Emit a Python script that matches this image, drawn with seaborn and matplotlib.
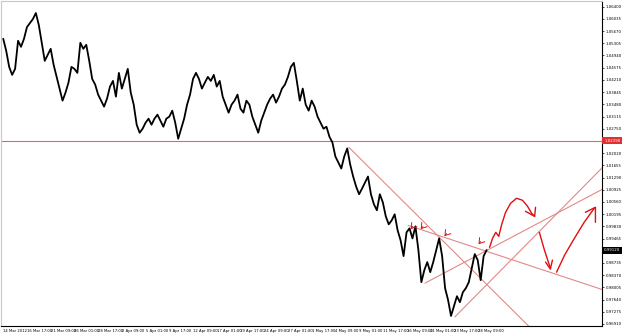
import numpy as np
import pandas as pd
import matplotlib
matplotlib.use("Agg")
import matplotlib.pyplot as plt
import seaborn as sns

# ---------------- data ----------------
close = [
    1.0544, 1.0508, 1.0460, 1.0436, 1.0454, 1.0538, 1.0520, 1.0544, 1.0579, 1.0591,
    1.0603, 1.0621, 1.0585, 1.0532, 1.0478, 1.0496, 1.0514, 1.0466, 1.0430, 1.0395,
    1.0359, 1.0383, 1.0413, 1.0460, 1.0454, 1.0442, 1.0532, 1.0514, 1.0526, 1.0478,
    1.0424, 1.0407, 1.0377, 1.0359, 1.0341, 1.0365, 1.0401, 1.0418, 1.0371, 1.0442,
    1.0395, 1.0424, 1.0454, 1.0383, 1.0347, 1.0287, 1.0263, 1.0275, 1.0293, 1.0305,
    1.0287, 1.0305, 1.0317, 1.0299, 1.0281, 1.0305, 1.0311, 1.0329, 1.0293, 1.0245,
    1.0275, 1.0305, 1.0347, 1.0377, 1.0424, 1.0442, 1.0424, 1.0395, 1.0413, 1.0430,
    1.0418, 1.0436, 1.0401, 1.0418, 1.0371, 1.0347, 1.0323, 1.0347, 1.0359, 1.0377,
    1.0335, 1.0323, 1.0359, 1.0347, 1.0311, 1.0287, 1.0263, 1.0299, 1.0323, 1.0347,
    1.0365, 1.0377, 1.0353, 1.0371, 1.0395, 1.0407, 1.0430, 1.0460, 1.0472, 1.0418,
    1.0359, 1.0395, 1.0347, 1.0329, 1.0359, 1.0341, 1.0311, 1.0293, 1.0275, 1.0281,
    1.0251, 1.0234, 1.0192, 1.0174, 1.0156, 1.0192, 1.0216, 1.0168, 1.0132, 1.0102,
    1.0079, 1.0096, 1.0114, 1.0132, 1.0079, 1.0049, 1.0031, 1.0079, 1.0055, 1.0013,
    0.9989, 1.0001, 1.0019, 0.9971, 0.9941, 0.9894, 0.9965, 0.9977, 0.9947, 0.9983,
    0.9912, 0.9816, 0.9852, 0.9876, 0.9846, 0.9876, 0.9912, 0.9947, 0.9894, 0.9798,
    0.9763, 0.9715, 0.9745, 0.9774, 0.9756, 0.9786, 0.9798, 0.9816, 0.9858, 0.9900,
    0.9882, 0.9822, 0.9894, 0.9912,
]

x_tick_labels = [
    "14 Mar 2012", "16 Mar 17:00", "21 Mar 09:00", "26 Mar 01:00", "28 Mar 17:00",
    "2 Apr 09:00", "5 Apr 01:00", "9 Apr 17:00", "12 Apr 09:00", "17 Apr 01:00",
    "19 Apr 17:00", "24 Apr 09:00", "27 Apr 01:00", "1 May 17:00", "4 May 09:00",
    "9 May 01:00", "11 May 17:00", "16 May 09:00", "21 May 01:00", "23 May 17:00",
    "28 May 09:00",
]
x_tick_every = 8

y_ticks = [
    1.06400, 1.06035, 1.05670, 1.05305, 1.04940, 1.04575, 1.04210, 1.03845, 1.03480,
    1.03115, 1.02750, 1.02385, 1.02020, 1.01655, 1.01290, 1.00925, 1.00560, 1.00195,
    0.99830, 0.99465, 0.99100, 0.98735, 0.98370, 0.98005, 0.97640, 0.97275, 0.96910,
]

level_price = 1.0239

# trend lines: (bar, price) pairs
trend_lines = [
    [(116.6, 1.0219), (182.0, 0.9642)],
    [(136.5, 0.9986), (203.0, 0.9791)],
    [(142.2, 0.9813), (204.4, 1.0105)],
    [(152.3, 0.9712), (204.4, 1.0180)],
]

# freehand red arrows: (bar, price) paths
arrow1_x = [164.0, 165.0, 166.1, 167.1, 168.1, 169.4, 171.1, 173.1, 175.1, 176.8, 178.2, 179.2]
arrow1_y = [0.9920, 0.9947, 0.9965, 0.9953, 0.9989, 1.0025, 1.0052, 1.0067, 1.0061, 1.0043, 1.0022, 1.0013]
arrow1_head_x = [176.1, 179.2, 179.5]
arrow1_head_y = [1.0028, 1.0013, 1.0040]

arrow2_x = [180.8, 182.5, 184.5]
arrow2_y = [0.9965, 0.9912, 0.9858]
arrow2_head_x = [182.9, 184.5, 185.2]
arrow2_head_y = [0.9876, 0.9855, 0.9882]

arrow3_x = [186.6, 189.3, 192.6, 195.9, 199.3]
arrow3_y = [0.9846, 0.9897, 0.9947, 0.9995, 1.0037]
arrow3_head_x = [196.3, 199.7, 199.7]
arrow3_head_y = [1.0025, 1.0040, 0.9995]

mark_x = [136.8, 140.2, 148.2, 159.7]
mark_y = [0.9968, 0.9968, 0.9947, 0.9923]

# ---------------- plot ----------------
sns.set_theme(style="white")
plt.rcParams["font.family"] = ["DejaVu Sans"]

fig = plt.figure(figsize=(6.25, 3.34), dpi=100)
ax = fig.add_axes([0.002, 8 / 334, 601 / 625, 325 / 334])

df = pd.DataFrame({"bar": np.arange(len(close)), "price": close})
sns.lineplot(data=df, x="bar", y="price", color="black", lw=1.3, ax=ax, zorder=3)

red_thin = "#e08a8a"
ax.axhline(level_price, color="#d96b6b", lw=0.8, zorder=2)
for (p1, p2) in trend_lines:
    ax.plot([p1[0], p2[0]], [p1[1], p2[1]], color=red_thin, lw=0.8, zorder=2)

red = "#e01010"
for xs, ys in [(arrow1_x, arrow1_y), (arrow1_head_x, arrow1_head_y),
               (arrow2_x, arrow2_y), (arrow2_head_x, arrow2_head_y),
               (arrow3_x, arrow3_y), (arrow3_head_x, arrow3_head_y)]:
    ax.plot(xs, ys, color=red, lw=1.0, zorder=4, solid_capstyle="round")

for mx, my in zip(mark_x, mark_y):
    ax.annotate("", xy=(mx, my), xytext=(4, 5), textcoords="offset points",
                arrowprops=dict(arrowstyle="->,head_length=0.3,head_width=0.2",
                                color=red, lw=0.7), zorder=4)

ax.set_xlim(-0.67, 202.0)
ax.set_ylim(0.96849, 1.0657)
ax.set_xlabel("")
ax.set_ylabel("")

xt = np.arange(len(x_tick_labels)) * x_tick_every
ax.set_xticks(xt)
ax.set_xticklabels(x_tick_labels, fontsize=2.7, ha="left")

# grid labels hidden where the price boxes sit (as in the terminal)
box_prices = [level_price, close[-1]]
y_labels = ["" if any(abs(v - b) < 0.0018 for b in box_prices) else f"{v:.5f}"
            for v in y_ticks]
ax.set_yticks(y_ticks)
ax.set_yticklabels(y_labels, fontsize=2.8)
ax.yaxis.tick_right()
ax.tick_params(axis="x", length=2, width=0.5, pad=0.3, colors="black")
ax.tick_params(axis="y", length=1.5, width=0.5, pad=1.0, colors="black")

for s in ["top", "left"]:
    ax.spines[s].set_color("#c8c8c8")
    ax.spines[s].set_linewidth(0.8)
for s in ["right", "bottom"]:
    ax.spines[s].set_color("black")
    ax.spines[s].set_linewidth(0.8)

# price labels on the axis
ax.text(1.003, level_price, f"{level_price:.5f}", transform=ax.get_yaxis_transform(),
        fontsize=2.8, color="white", va="center", ha="left", zorder=5,
        bbox=dict(boxstyle="square,pad=0.4", fc="#e03030", ec="none"), clip_on=False)
ax.text(1.003, close[-1], f"{close[-1]:.5f}", transform=ax.get_yaxis_transform(),
        fontsize=2.8, color="white", va="center", ha="left", zorder=5,
        bbox=dict(boxstyle="square,pad=0.4", fc="black", ec="none"), clip_on=False)

fig.savefig("out.png", dpi=100)
